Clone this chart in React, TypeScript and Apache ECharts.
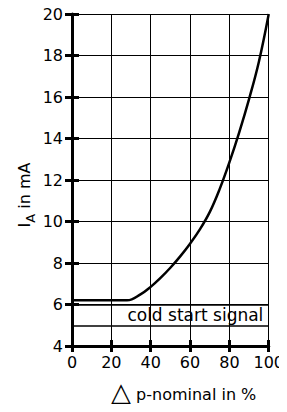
import React, { useEffect, useRef } from "react";
import * as echarts from "echarts";

const xTicks = [0, 20, 40, 60, 80, 100];
const yTicks = [4, 6, 8, 10, 12, 14, 16, 18, 20];
const pNominal = [0, 28, 35, 40, 45, 50, 55, 60, 65, 70, 75, 80, 85, 90, 95, 100];
const currentMA = [6.2, 6.2, 6.5, 6.85, 7.28, 7.77, 8.32, 8.93, 9.62, 10.45, 11.55, 12.85, 14.3, 15.9, 17.7, 20];
const coldStartBand = [5, 6];
const coldStartLabel = "cold start signal";

const FONT = "DejaVu Sans";

export default function App() {
  const ref = useRef<HTMLDivElement>(null);
  useEffect(() => {
    if (!ref.current) return;
    const chart = echarts.init(ref.current, null, { renderer: "svg" });
    const baseX = {
      type: "value" as const,
      min: xTicks[0],
      max: xTicks[xTicks.length - 1],
      interval: 20,
      position: "bottom" as const,
    };
    const baseY = {
      type: "value" as const,
      min: yTicks[0],
      max: yTicks[yTicks.length - 1],
      interval: 2,
      position: "left" as const,
    };
    chart.setOption({
      animation: false,
      backgroundColor: "#fff",
      grid: { left: 72, right: 7, top: 14, bottom: 66, containLabel: false },
      xAxis: [
        {
          ...baseX,
          axisLine: { show: true, lineStyle: { color: "#000", width: 3 } },
          axisTick: { show: true, length: 6, lineStyle: { color: "#000", width: 3 } },
          axisLabel: { color: "#000", fontFamily: FONT, fontSize: 16, margin: 8 },
          splitLine: { show: true, lineStyle: { color: "#000", width: 1 } },
        },
        {
          ...baseX,
          axisLine: { show: false },
          axisTick: { show: true, inside: true, length: 6, lineStyle: { color: "#000", width: 3 } },
          axisLabel: { show: false },
          splitLine: { show: false },
        },
      ],
      yAxis: [
        {
          ...baseY,
          axisLine: { show: true, lineStyle: { color: "#000", width: 3 } },
          axisTick: { show: true, length: 7, lineStyle: { color: "#000", width: 3 } },
          axisLabel: { color: "#000", fontFamily: FONT, fontSize: 16, margin: 9 },
          splitLine: { show: true, lineStyle: { color: "#000", width: 1 } },
        },
        {
          ...baseY,
          axisLine: { show: false },
          axisTick: { show: true, inside: true, length: 7, lineStyle: { color: "#000", width: 3 } },
          axisLabel: { show: false },
          splitLine: { show: false },
        },
      ],
      series: [
        {
          type: "line",
          data: pNominal.map((p, i) => [p, currentMA[i]]),
          smooth: 0.4,
          symbol: "none",
          lineStyle: { color: "#000", width: 2.5 },
          markArea: {
            silent: true,
            itemStyle: { color: "rgba(0,0,0,0)" },
            label: {
              show: true,
              position: "inside",
              color: "#000",
              fontFamily: FONT,
              fontSize: 17,
              offset: [25, 0],
            },
            data: [[{ yAxis: coldStartBand[1], name: coldStartLabel }, { yAxis: coldStartBand[0] }]],
          },
          markLine: {
            silent: true,
            symbol: "none",
            label: { show: false },
            lineStyle: { color: "#000", width: 1.5, type: "solid" },
            data: coldStartBand.map((v) => ({ yAxis: v })),
          },
        },
      ],
      graphic: [
        {
          type: "text",
          x: 111,
          y: 392,
          style: {
            text: "{t|△}{p| p-nominal in %}",
            verticalAlign: "middle",
            fill: "#000",
            rich: {
              t: { fontFamily: FONT, fontSize: 26, fill: "#000", verticalAlign: "middle" },
              p: { fontFamily: FONT, fontSize: 16, fill: "#000", verticalAlign: "middle", padding: [4, 0, 0, 0] },
            },
          },
        },
        {
          type: "text",
          x: 24,
          y: 195,
          rotation: Math.PI / 2,
          style: {
            text: "{i|I}{s|A}{i| in mA}",
            align: "center",
            verticalAlign: "middle",
            fill: "#000",
            rich: {
              i: { fontFamily: FONT, fontSize: 16, fill: "#000" },
              s: { fontFamily: FONT, fontSize: 13, fill: "#000", padding: [12, 0, 0, 0] },
            },
          },
        },
      ],
    });
    return () => chart.dispose();
  }, []);
  return <div ref={ref} style={{ width: 287, height: 412, margin: -8 }} />;
}
